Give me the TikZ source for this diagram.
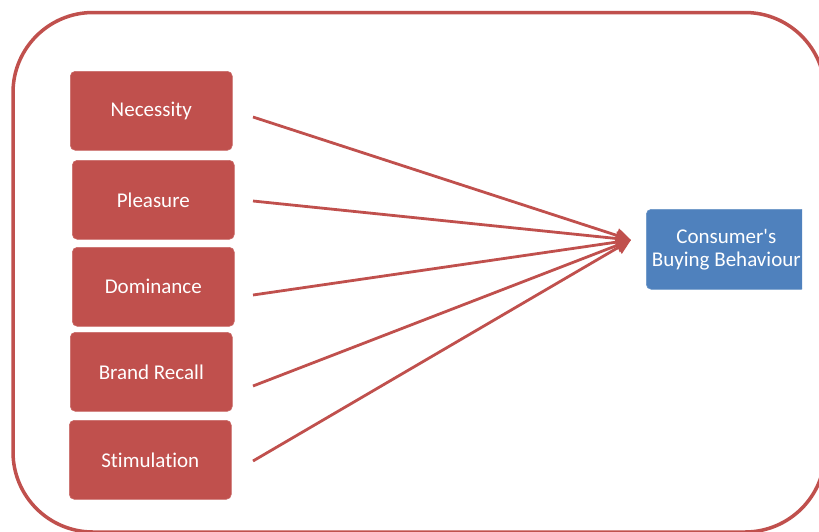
\documentclass[tikz,border=0pt]{standalone}
\usepackage{fontspec}
\setmainfont{Carlito}[Ligatures={TeXOff,NoCommon}]
\usetikzlibrary{arrows.meta}
\definecolor{cred}{HTML}{C0504D}
\definecolor{cblue}{HTML}{4F81BD}
\begin{document}
\begin{tikzpicture}[x=1pt,y=-1pt,
  factor/.style={fill=cred,draw=cred!85!white,line width=0.6pt,rounded corners=5pt,text=white,
    minimum width=162pt,minimum height=79pt,inner sep=0pt,font=\fontsize{21}{25}\selectfont,anchor=north west},
  target/.style={fill=cblue,draw=cblue!85!white,line width=0.6pt,rounded corners=5pt,text=white,
    minimum width=160pt,minimum height=80pt,inner sep=0pt,align=center,font=\fontsize{21}{23}\selectfont,anchor=north west},
  link/.style={draw=cred,line width=2.8pt,-{Triangle[length=15pt,width=14pt]}}]
\useasboundingbox (0,0) rectangle (819,531);
\clip (0,0) rectangle (819,531);
\draw[cred,line width=3.5pt,rounded corners=80pt] (13,12.5) rectangle (825,532);
\node[factor] (nec) at (70,71) {Necessity};
\node[factor] (ple) at (72,160) {Pleasure};
\node[factor] (dom) at (72,247) {Dominance};
\node[factor] (bra) at (70,332) {Brand Recall};
\node[factor] (sti) at (69,420) {Stimulation};
\begin{scope}
\clip (0,0) rectangle (802,531);
\node[target] (cbb) at (646,209) {Consumer's\\Buying Behaviour};
\end{scope}
\coordinate (s1) at (253,117);
\coordinate (s2) at (253,201);
\coordinate (s3) at (253,295);
\coordinate (s4) at (253,386);
\coordinate (s5) at (253,461);
\coordinate (tip) at (631,240);
\foreach \s in {s1,s2,s3,s4,s5} \draw[link] (\s) -- (tip);
\end{tikzpicture}
\end{document}
